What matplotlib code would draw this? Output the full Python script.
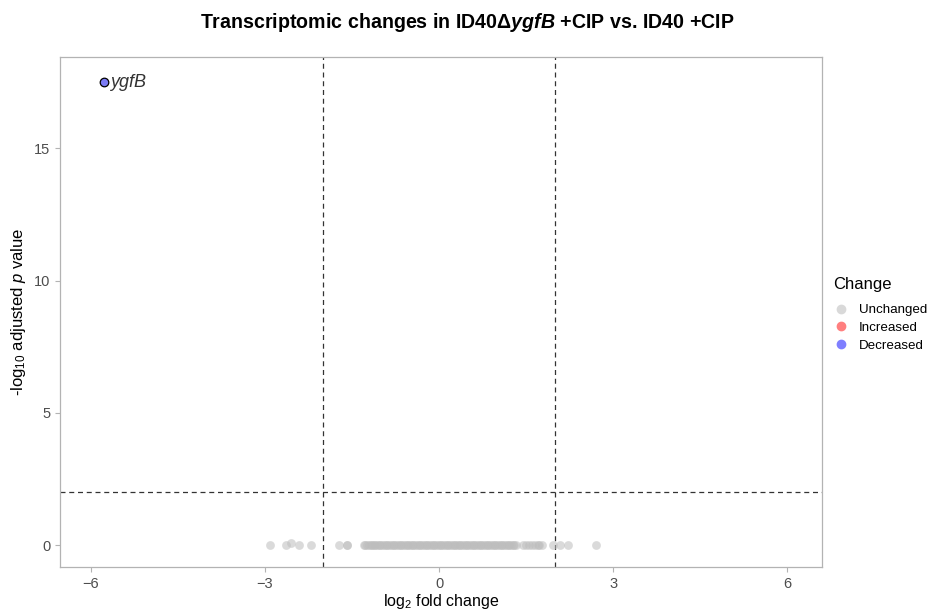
import matplotlib.pyplot as plt
from matplotlib.lines import Line2D

plt.rcParams['font.family'] = ['Liberation Sans', 'DejaVu Sans']
plt.rcParams['mathtext.fontset'] = 'custom'
plt.rcParams['mathtext.rm'] = 'Liberation Sans'
plt.rcParams['mathtext.it'] = 'Liberation Sans:italic'
plt.rcParams['mathtext.bf'] = 'Liberation Sans:bold'
plt.rcParams['mathtext.bfit'] = 'Liberation Sans:bold:italic'

# unchanged genes away from the main cluster (log2FC, -log10 padj)
sparse_fc = [-2.91, -2.63, -2.55, -2.41, -2.21, -1.73, -1.59, -1.58,
             1.45, 1.50, 1.55, 1.60, 1.65, 1.70, 1.73, 1.77, 1.97, 2.09, 2.22, 2.71]
sparse_p = [0.0, 0.0, 0.08, 0.0, 0.0, 0.0, 0.0, 0.0,
            0.0, 0.0, 0.0, 0.0, 0.0, 0.0, 0.0, 0.0, 0.0, 0.0, 0.0, 0.0]

# bulk of unchanged genes, all with -log10 padj of 0
cluster_fc = [-1.30, -1.27, -1.24, -1.21, -1.18, -1.15, -1.12, -1.10, -1.07, -1.04,
              -1.01, -0.98, -0.95, -0.92, -0.89, -0.86, -0.83, -0.80, -0.77, -0.74,
              -0.71, -0.68, -0.65, -0.62, -0.59, -0.56, -0.53, -0.50, -0.47, -0.44,
              -0.41, -0.38, -0.35, -0.32, -0.29, -0.26, -0.23, -0.20, -0.17, -0.14,
              -0.11, -0.08, -0.05, -0.02, 0.01, 0.04, 0.07, 0.10, 0.13, 0.16,
              0.19, 0.22, 0.25, 0.28, 0.31, 0.34, 0.37, 0.40, 0.43, 0.46,
              0.49, 0.52, 0.55, 0.58, 0.61, 0.64, 0.67, 0.70, 0.73, 0.76,
              0.79, 0.82, 0.85, 0.88, 0.91, 0.94, 0.97, 1.00, 1.03, 1.06,
              1.09, 1.12, 1.15, 1.18, 1.21, 1.24, 1.27, 1.30, 1.33]
cluster_p = [0.0] * len(cluster_fc)

# significantly decreased genes
down_genes = ['ygfB']
down_fc = [-5.78]
down_p = [17.5]

fc_cut = 2
p_cut = 2

fig = plt.figure(figsize=(9.3, 6.1), dpi=100)
ax = fig.add_axes([0.0645, 0.0705, 0.8195, 0.836])

grey_pt = '#bdbdbd'
ax.scatter(sparse_fc + cluster_fc, sparse_p + cluster_p, s=40, color=grey_pt,
           alpha=0.55, linewidths=0, zorder=2)
ax.scatter(down_fc, down_p, s=38, color='#7b7bf5', edgecolors='black',
           linewidths=0.9, zorder=3)
for g, x, y in zip(down_genes, down_fc, down_p):
    ax.annotate(g, (x, y), xytext=(5, 0), textcoords='offset points',
                style='italic', fontsize=13, color='#333333', va='center')

ax.axvline(-fc_cut, color='#333333', ls=(0, (4, 3)), lw=0.9, zorder=1)
ax.axvline(fc_cut, color='#333333', ls=(0, (4, 3)), lw=0.9, zorder=1)
ax.axhline(p_cut, color='#333333', ls=(0, (4, 3)), lw=0.9, zorder=1)

ax.set_xlim(-6.53, 6.6)
ax.set_ylim(-0.83, 18.45)
ax.set_xticks([-6, -3, 0, 3, 6])
ax.set_yticks([0, 5, 10, 15])
for s in ax.spines.values():
    s.set_color('#b3b3b3')
    s.set_linewidth(0.9)
ax.tick_params(colors='#b3b3b3', labelcolor='#4d4d4d', labelsize=10.5,
               length=3.5, width=0.8)

ax.set_xlabel(r'log$_2$ fold change', fontsize=11.5, labelpad=1)
ax.set_ylabel(r'-log$_{10}$ adjusted $\mathit{p}$ value', fontsize=12, labelpad=4)

fig.text(0.502, 0.963, r'Transcriptomic changes in ID40Δ$\mathbfit{ygfB}$ +CIP vs. ID40 +CIP',
         ha='center', va='center', fontsize=14.1, fontweight='bold')

handles = [
    Line2D([], [], ls='none', marker='o', ms=6, color='#d9d9d9', label='Unchanged'),
    Line2D([], [], ls='none', marker='o', ms=6, color='#ff7f7f', label='Increased'),
    Line2D([], [], ls='none', marker='o', ms=6, color='#7f7fff', label='Decreased'),
]
leg = fig.legend(handles=handles, title='Change', loc='center left',
                 bbox_to_anchor=(0.883, 0.485), frameon=False, fontsize=9.6,
                 title_fontsize=12, alignment='left', handletextpad=0.75,
                 labelspacing=0.4, handlelength=1.2)
# a bit more room under the legend title
leg._legend_box.sep = 9

fig.savefig('out.png', dpi=100)
